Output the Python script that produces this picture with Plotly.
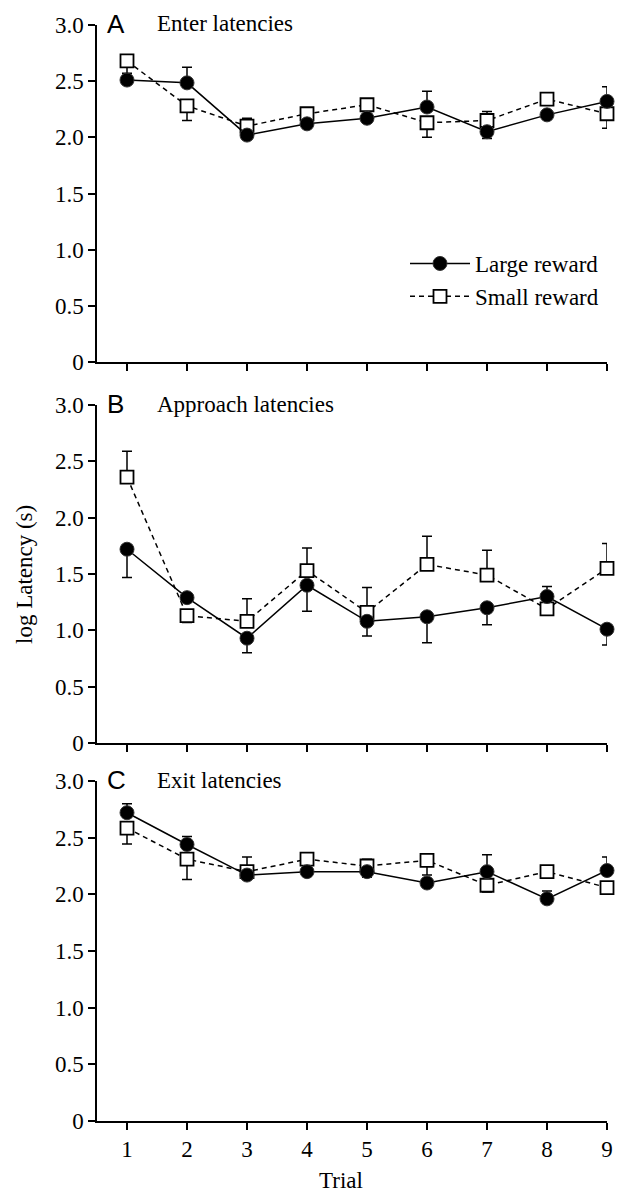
import plotly.graph_objects as go

trials = [1, 2, 3, 4, 5, 6, 7, 8, 9]
y_ticks = [0, 0.5, 1.0, 1.5, 2.0, 2.5, 3.0]
y_tick_text = ["0", "0.5", "1.0", "1.5", "2.0", "2.5", "3.0"]

panel_letters = ["A", "B", "C"]
panel_titles = ["Enter latencies", "Approach latencies", "Exit latencies"]
series_names = ["Large reward", "Small reward"]

A_large = [2.51, 2.485, 2.02, 2.12, 2.17, 2.27, 2.05, 2.20, 2.32]
A_large_plus = [0, 0.14, 0, 0, 0, 0.14, 0, 0, 0.13]
A_large_minus = [0, 0, 0, 0, 0, 0, 0.06, 0, 0]
A_small = [2.68, 2.28, 2.10, 2.21, 2.29, 2.13, 2.15, 2.34, 2.21]
A_small_plus = [0, 0, 0.07, 0, 0, 0, 0.08, 0, 0]
A_small_minus = [0.11, 0.13, 0, 0, 0, 0.13, 0, 0, 0.13]

B_large = [1.72, 1.29, 0.93, 1.40, 1.08, 1.12, 1.20, 1.30, 1.01]
B_large_plus = [0, 0, 0, 0, 0, 0, 0, 0.09, 0]
B_large_minus = [0.25, 0, 0.13, 0.23, 0.13, 0.23, 0.15, 0, 0.14]
B_small = [2.36, 1.13, 1.08, 1.53, 1.16, 1.585, 1.49, 1.19, 1.55]
B_small_plus = [0.23, 0, 0.20, 0.20, 0.22, 0.25, 0.22, 0, 0.22]
B_small_minus = [0, 0.06, 0, 0, 0, 0, 0, 0, 0]

C_large = [2.72, 2.44, 2.17, 2.20, 2.20, 2.10, 2.20, 1.96, 2.21]
C_large_plus = [0.08, 0.07, 0, 0, 0, 0, 0.15, 0.07, 0.12]
C_large_minus = [0, 0, 0, 0, 0.05, 0, 0, 0, 0]
C_small = [2.585, 2.31, 2.20, 2.31, 2.25, 2.30, 2.08, 2.20, 2.06]
C_small_plus = [0, 0, 0.13, 0, 0.06, 0, 0, 0, 0]
C_small_minus = [0.14, 0.18, 0, 0, 0, 0.13, 0.06, 0, 0.06]

panels = [
    (A_large, A_large_plus, A_large_minus, A_small, A_small_plus, A_small_minus),
    (B_large, B_large_plus, B_large_minus, B_small, B_small_plus, B_small_minus),
    (C_large, C_large_plus, C_large_minus, C_small, C_small_plus, C_small_minus),
]

W, H = 628, 1192
ML, MR = 97, 21
PW = W - ML - MR
# pixel positions (top of 3.0, bottom of 0) for each panel
panel_px = [(25, 362), (405, 743), (781, 1121)]

SERIF = "Liberation Serif"
SANS = "Liberation Sans"
FS = 23

fig = go.Figure()

for i, (lg, lgp, lgm, sm, smp, smm) in enumerate(panels):
    xa = "x" if i == 0 else f"x{i+1}"
    ya = "y" if i == 0 else f"y{i+1}"
    fig.add_trace(go.Scatter(
        x=trials, y=sm, xaxis=xa, yaxis=ya, name=series_names[1],
        mode="lines+markers", showlegend=(i == 0), cliponaxis=False,
        line=dict(color="black", width=1.5, dash="5px,4px"),
        marker=dict(symbol="square", size=13, color="white",
                    line=dict(color="black", width=1.8)),
        error_y=dict(type="data", symmetric=False, array=smp, arrayminus=smm,
                     color="black", thickness=1.5, width=5),
    ))
    fig.add_trace(go.Scatter(
        x=trials, y=lg, xaxis=xa, yaxis=ya, name=series_names[0],
        mode="lines+markers", showlegend=(i == 0), cliponaxis=False,
        line=dict(color="black", width=1.5),
        marker=dict(symbol="circle", size=14, color="black",
                    line=dict(color="#333", width=1)),
        error_y=dict(type="data", symmetric=False, array=lgp, arrayminus=lgm,
                     color="black", thickness=1.5, width=5),
    ))

layout = dict(
    width=W, height=H,
    margin=dict(l=ML, r=MR, t=0, b=0),
    paper_bgcolor="white", plot_bgcolor="white",
    font=dict(family=SERIF, size=FS, color="black"),
    showlegend=True,
    legend=dict(
        x=(405 - ML) / PW, y=1 - 242 / H, xanchor="left", yanchor="top",
        traceorder="reversed", font=dict(family=SERIF, size=FS),
        bgcolor="rgba(0,0,0,0)", itemwidth=60, tracegroupgap=0,
    ),
)

annotations = []
for i in range(3):
    top, bot = panel_px[i]
    xkey = "xaxis" if i == 0 else f"xaxis{i+1}"
    ykey = "yaxis" if i == 0 else f"yaxis{i+1}"
    xa = "x" if i == 0 else f"x{i+1}"
    ya = "y" if i == 0 else f"y{i+1}"
    layout[xkey] = dict(
        domain=[0, 1], anchor=ya, range=[0.5, 9],
        tickvals=trials, ticktext=[str(t) for t in trials],
        showticklabels=(i == 2), ticks="outside", ticklen=7, tickwidth=1.5,
        tickcolor="black", showline=True, linecolor="black", linewidth=1.5,
        showgrid=False, zeroline=False, automargin=False,
        tickfont=dict(family=SERIF, size=FS, color="black"),
    )
    layout[ykey] = dict(
        domain=[1 - bot / H, 1 - top / H], anchor=xa, range=[0, 3.0],
        tickvals=y_ticks, ticktext=y_tick_text,
        ticks="outside", ticklen=7, tickwidth=1.5, tickcolor="black",
        showline=True, linecolor="black", linewidth=1.5,
        showgrid=False, zeroline=False, automargin=False,
        tickfont=dict(family=SERIF, size=FS, color="black"),
    )
    annotations.append(dict(
        text=panel_letters[i], xref="paper", yref="paper",
        x=(105 - ML) / PW, y=1 - (top - 1) / H, xanchor="left", yanchor="middle",
        showarrow=False, font=dict(family=SANS, size=26, color="black"),
    ))
    annotations.append(dict(
        text=panel_titles[i], xref="paper", yref="paper",
        x=(155 - ML) / PW, y=1 - (top - 1) / H, xanchor="left", yanchor="middle",
        showarrow=False, font=dict(family=SERIF, size=FS, color="black"),
    ))

annotations.append(dict(
    text="Trial", xref="paper", yref="paper",
    x=(341 - ML) / PW, y=1 - 1180 / H, xanchor="center", yanchor="middle",
    showarrow=False, font=dict(family=SERIF, size=FS, color="black"),
))
annotations.append(dict(
    text="log Latency (s)", xref="paper", yref="paper",
    x=(24 - ML) / PW, y=1 - 575 / H, xanchor="center", yanchor="middle",
    textangle=-90, showarrow=False, font=dict(family=SERIF, size=FS, color="black"),
))
layout["annotations"] = annotations

fig.update_layout(**layout)
fig.write_html(
    "out.html",
    config={"displayModeBar": False},
    post_script="document.body.style.margin='0';document.body.style.padding='0';",
)
